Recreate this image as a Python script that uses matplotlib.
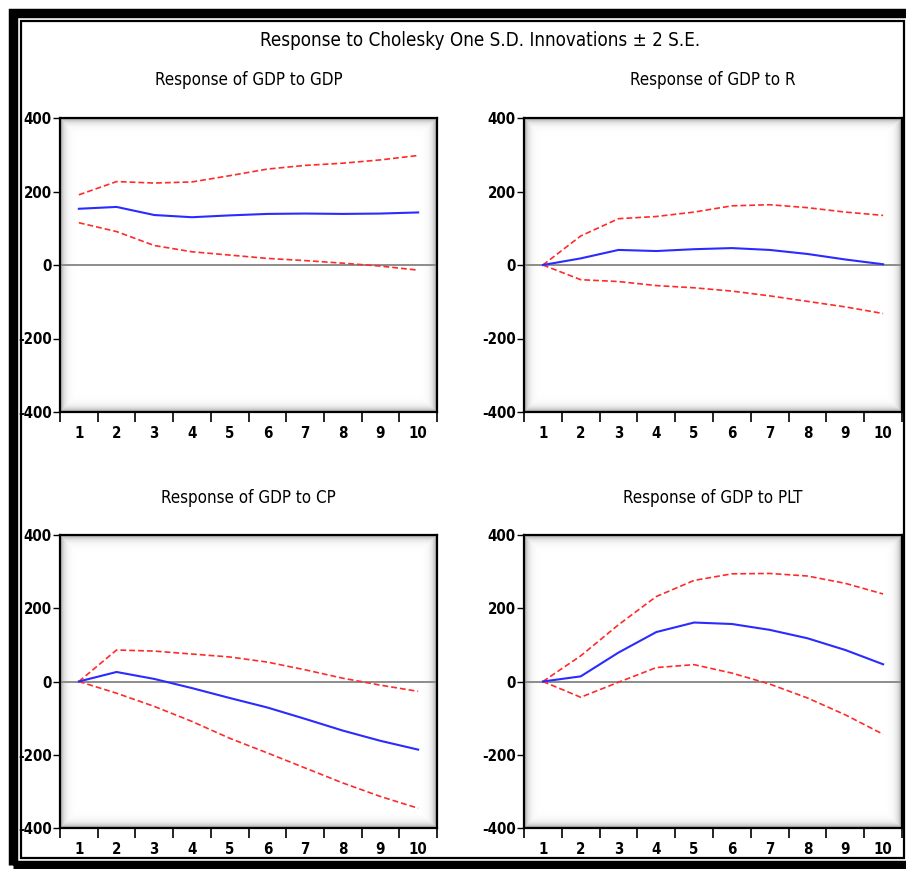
#!/usr/bin/env python3
"""EViews-style impulse response grid: response of GDP with +/- 2 S.E. bands."""

import matplotlib
matplotlib.use("Agg")
import matplotlib.pyplot as plt
import numpy as np
from matplotlib import font_manager as fm
from matplotlib.patches import Rectangle
from matplotlib.ticker import FixedLocator

periods = list(range(1, 11))

titles = [
    "Response of GDP to GDP",
    "Response of GDP to R",
    "Response of GDP to CP",
    "Response of GDP to PLT",
]

resp_gdp = [153, 158, 136, 130, 135, 139, 140, 139, 140, 143]
upper_gdp = [191, 227, 223, 226, 243, 261, 271, 277, 286, 298]
lower_gdp = [115, 91, 53, 36, 27, 18, 12, 5, -3, -14]

resp_r = [0, 18, 41, 38, 43, 46, 41, 30, 15, 2]
upper_r = [0, 79, 126, 132, 144, 161, 164, 156, 144, 135]
lower_r = [0, -40, -45, -56, -62, -71, -84, -99, -114, -132]

resp_cp = [0, 26, 7, -18, -45, -71, -102, -134, -162, -186]
upper_cp = [0, 86, 83, 75, 67, 53, 32, 9, -10, -27]
lower_cp = [0, -32, -68, -109, -155, -195, -236, -277, -314, -346]

resp_plt = [0, 14, 79, 135, 161, 157, 141, 118, 86, 47]
upper_plt = [0, 70, 155, 232, 276, 294, 295, 288, 268, 239]
lower_plt = [0, -43, -2, 38, 46, 23, -7, -45, -91, -144]

responses = [resp_gdp, resp_r, resp_cp, resp_plt]
uppers = [upper_gdp, upper_r, upper_cp, upper_plt]
lowers = [lower_gdp, lower_r, lower_cp, lower_plt]

W, H = 906, 869


def pick_font():
    """Prefer a narrow sans (EViews uses Arial Narrow); fall back to Liberation Sans."""
    for f in fm.fontManager.ttflist:
        if f.name == "Liberation Sans Narrow":
            return {"family": ["Liberation Sans Narrow", "DejaVu Sans"]}, 1.05
    for f in fm.fontManager.ttflist:
        if f.name == "DejaVu Sans" and "Condensed" in f.fname:
            return {"family": ["DejaVu Sans"], "stretch": "condensed"}, 0.9
    return {"family": ["Liberation Sans", "DejaVu Sans"]}, 0.85


FONT, SCALE = pick_font()
plt.rcParams["font.family"] = FONT["family"]
if "stretch" in FONT:
    plt.rcParams["font.stretch"] = FONT["stretch"]


def fx(px):
    return px / W


def fy(py):
    return 1 - py / H


def add_shadow(ax):
    """Soft gray inner shadow along the plot frame, like EViews graphs."""
    bbox = ax.get_window_extent()
    w, h = int(bbox.width), int(bbox.height)
    yy, xx = np.mgrid[0:h, 0:w]
    d = np.minimum.reduce([xx, w - 1 - xx, yy, h - 1 - yy]).astype(float)
    alpha = 0.38 * np.exp(-d / 3.5)
    img = np.zeros((h, w, 4))
    img[..., 3] = alpha
    ax.imshow(img, extent=(0, 1, 0, 1), transform=ax.transAxes,
              aspect="auto", zorder=0.5, interpolation="bilinear")


fig = plt.figure(figsize=(W / 100, H / 100), dpi=100)

# outer thick frame and inner thin frame
fig.patches.append(Rectangle((fx(12.5), fy(865)), fx(906 - 12.5 + 20), fy(12.5) - fy(865),
                             transform=fig.transFigure, fill=False,
                             edgecolor="black", linewidth=6.8))
fig.patches.append(Rectangle((fx(21), fy(858)), fx(904 - 21), fy(21) - fy(858),
                             transform=fig.transFigure, fill=False,
                             edgecolor="black", linewidth=1.6))

fig.text(fx(480), fy(40), "Response to Cholesky One S.D. Innovations \u00b1 2 S.E.",
         ha="center", va="center", fontsize=15 * SCALE)

boxes = [
    (60, 118, 437, 412),
    (524, 118, 902, 412),
    (60, 535, 437, 828),
    (524, 535, 902, 828),
]
title_y = [80, 80, 498, 498]

for i, (x0, y0, x1, y1) in enumerate(boxes):
    ax = fig.add_axes([fx(x0), fy(y1), fx(x1 - x0), fy(y0) - fy(y1)])
    ax.axhline(0, color="#8c8c8c", lw=1.4, zorder=1)
    ax.plot(periods, uppers[i], color="#ff2a2a", lw=1.2, ls=(0, (3.5, 1.8)), zorder=2)
    ax.plot(periods, lowers[i], color="#ff2a2a", lw=1.2, ls=(0, (3.5, 1.8)), zorder=2)
    ax.plot(periods, responses[i], color="#2b2bff", lw=1.5, zorder=3)
    ax.set_xlim(0.5, 10.5)
    ax.set_ylim(-400, 400)
    ax.set_yticks([-400, -200, 0, 200, 400])
    ax.set_yticklabels(["-400", "-200", "0", "200", "400"])
    ax.set_xticks(periods)
    ax.xaxis.set_minor_locator(FixedLocator([p - 0.5 for p in periods] + [10.5]))
    ax.tick_params(axis="x", which="major", length=0, pad=10)
    ax.tick_params(axis="x", which="minor", length=7, width=1.2, direction="out")
    ax.tick_params(axis="y", length=5, width=1.0, direction="out", pad=1)
    for lab in ax.get_xticklabels() + ax.get_yticklabels():
        lab.set_fontsize(12 * SCALE)
        lab.set_fontweight("bold")
    for sp in ax.spines.values():
        sp.set_linewidth(1.6)
        sp.set_color("black")
    add_shadow(ax)
    fig.text(fx((x0 + x1) / 2), fy(title_y[i]), titles[i],
             ha="center", va="center", fontsize=13.5 * SCALE)

fig.savefig("out.png", dpi=100)
